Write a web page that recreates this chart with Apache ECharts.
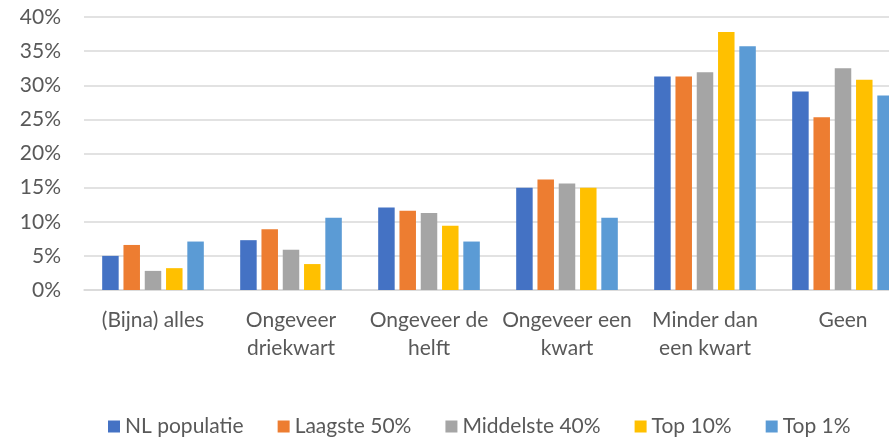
<!DOCTYPE html>
<html>
<head>
<meta charset="utf-8">
<script src="https://cdn.jsdelivr.net/npm/echarts@6/dist/echarts.min.js"></script>
<style>html,body{margin:0;padding:0;background:#fff;}#c{width:889px;height:440px;}</style>
</head>
<body>
<div id="c"></div>
<script>
const categories = ["(Bijna) alles", "Ongeveer\ndriekwart", "Ongeveer de\nhelft", "Ongeveer een\nkwart", "Minder dan\neen kwart", "Geen"];
const seriesNames = ["NL populatie", "Laagste 50%", "Middelste 40%", "Top 10%", "Top 1%"];
const nlPopulatie = [5.0, 7.3, 12.1, 15.0, 31.3, 29.1];
const laagste50 = [6.6, 8.9, 11.6, 16.2, 31.3, 25.3];
const middelste40 = [2.8, 5.9, 11.3, 15.6, 31.9, 32.5];
const top10 = [3.2, 3.8, 9.4, 15.0, 37.8, 30.8];
const top1 = [7.1, 10.6, 7.1, 10.6, 35.7, 28.5];
const yTicks = [0, 5, 10, 15, 20, 25, 30, 35, 40];

const colors = ["#4472C4", "#ED7D31", "#A5A5A5", "#FFC000", "#5B9BD5"];
const values = [nlPopulatie, laagste50, middelste40, top10, top1];
const FONT = "Lato";
const chart = echarts.init(document.getElementById('c'), null, {renderer: 'canvas'});
chart.setOption({
  animation: false,
  color: colors,
  textStyle: {fontFamily: FONT},
  grid: {left: 84, top: 17, width: 828, height: 273, containLabel: false, outerBoundsMode: 'none'},
  legend: {
    left: 103, top: 411, itemWidth: 12, itemHeight: 12, itemGap: 34,
    icon: 'rect',
    textStyle: {fontFamily: FONT, fontSize: 21, color: '#595959'},
    data: seriesNames
  },
  xAxis: {
    type: 'category', data: categories,
    axisTick: {show: false},
    axisLine: {lineStyle: {color: '#D9D9D9', width: 1.5}},
    axisLabel: {interval: 0, fontFamily: FONT, fontSize: 21, color: '#595959', lineHeight: 28, margin: 16}
  },
  yAxis: {
    type: 'value', min: yTicks[0], max: yTicks[yTicks.length - 1], interval: 5,
    axisLine: {show: false}, axisTick: {show: false},
    splitLine: {lineStyle: {color: '#D9D9D9', width: 1.5}},
    axisLabel: {formatter: '{value}%', fontFamily: FONT, fontSize: 21, color: '#595959', margin: 23}
  },
  series: seriesNames.map((n, i) => ({
    name: n, type: 'bar', data: values[i], barWidth: 16.5, barGap: '29%'
  }))
});
</script>
</body>
</html>
